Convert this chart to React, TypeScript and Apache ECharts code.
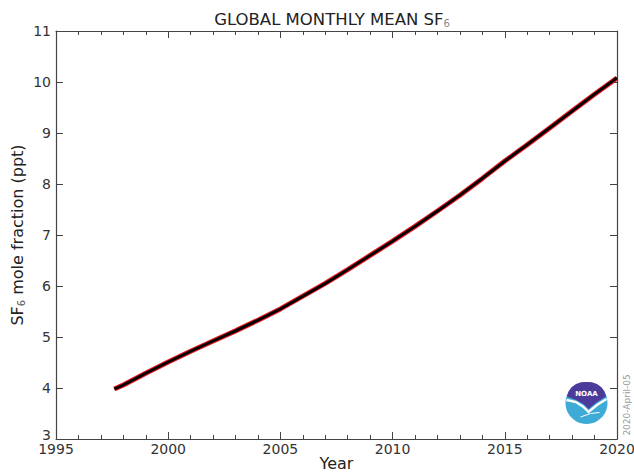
import React, { useEffect, useRef } from "react";
import * as echarts from "echarts";

const years = [1997.6, 1998, 1999, 2000, 2001, 2002, 2003, 2004, 2005, 2006, 2007, 2008, 2009, 2010, 2011, 2012, 2013, 2014, 2015, 2016, 2017, 2018, 2019, 2020];
const sf6 = [3.98, 4.06, 4.29, 4.51, 4.72, 4.92, 5.12, 5.33, 5.55, 5.8, 6.05, 6.32, 6.6, 6.88, 7.17, 7.47, 7.78, 8.11, 8.45, 8.77, 9.1, 9.43, 9.76, 10.08];
const xTicks = [1995, 2000, 2005, 2010, 2015, 2020];
const yTicks = [3, 4, 5, 6, 7, 8, 9, 10, 11];

const FONT = "DejaVu Sans";

export default function App() {
  const ref = useRef<HTMLDivElement>(null);
  useEffect(() => {
    if (!ref.current) return;
    const chart = echarts.init(ref.current, null, { renderer: "svg" });
    const data = years.map((y, i) => [y, sf6[i]]);
    const axisLine = { show: true, lineStyle: { color: "#444", width: 1.2 } };
    const baseX = {
      type: "value" as const,
      min: xTicks[0],
      max: xTicks[xTicks.length - 1],
      interval: 5,
      axisLine,
      splitLine: { show: false },
      axisTick: { show: true, inside: true, length: 7, lineStyle: { color: "#444" } },
      minorTick: { show: true, splitNumber: 5, length: 4, lineStyle: { color: "#444" } },
    };
    const baseY = {
      type: "value" as const,
      min: yTicks[0],
      max: yTicks[yTicks.length - 1],
      interval: 1,
      axisLine,
      splitLine: { show: false },
      axisTick: { show: true, inside: true, length: 7, lineStyle: { color: "#444" } },
    };
    chart.setOption({
      animation: false,
      backgroundColor: "#fff",
      textStyle: { fontFamily: FONT },
      title: {
        text: "GLOBAL MONTHLY MEAN SF{sub|6}",
        left: 327,
        textAlign: "center",
        top: 6,
        textStyle: {
          fontFamily: FONT,
          fontSize: 16.5,
          fontWeight: "normal",
          color: "#222",
          rich: {
            sub: { fontSize: 10, color: "#888", fontFamily: FONT, padding: [7, 0, 0, 0] },
          },
        },
      },
      grid: { left: 56, right: 17, top: 31, bottom: 33, containLabel: false, outerBoundsMode: "none" },
      xAxis: [
        {
          ...baseX,
          position: "bottom",
          name: "Year",
          nameLocation: "middle",
          nameGap: 16,
          nameMoveOverlap: false,
          nameTextStyle: { fontFamily: FONT, fontSize: 16, color: "#222", lineHeight: 17 },
          axisLabel: {
            show: true,
            fontFamily: FONT,
            fontSize: 14,
            color: "#333",
            margin: 3,
            formatter: (v: number) => String(v),
          },
        },
        { ...baseX, position: "top", axisLabel: { show: false } },
      ],
      yAxis: [
        {
          ...baseY,
          position: "left",
          name: "SF{sub|6} mole fraction (ppt)",
          nameLocation: "middle",
          nameGap: 30,
          nameMoveOverlap: false,
          nameRotate: 90,
          nameTextStyle: {
            fontFamily: FONT,
            fontSize: 16,
            color: "#222",
            rich: {
              sub: { fontSize: 10, color: "#555", fontFamily: FONT, padding: [7, 0, 0, 0] },
            },
          },
          axisLabel: {
            show: true,
            fontFamily: FONT,
            fontSize: 14,
            color: "#333",
            margin: 5,
            formatter: (v: number) => (v === yTicks[0] ? "{low|" + v + "}" : String(v)),
            rich: { low: { fontFamily: FONT, fontSize: 14, color: "#333", padding: [0, 0, 8, 0] } },
          },
        },
        { ...baseY, position: "right", axisLabel: { show: false } },
      ],
      series: [
        {
          type: "line",
          data,
          showSymbol: false,
          lineStyle: { color: "#e8141c", width: 5 },
          z: 2,
        },
        {
          type: "line",
          data,
          showSymbol: false,
          lineStyle: { color: "#000", width: 2.8 },
          z: 3,
        },
      ],
      graphic: [
        {
          type: "group",
          left: 564,
          top: 382,
          children: [
            { type: "circle", shape: { cx: 21, cy: 21, r: 21 }, style: { fill: "#3eaad6" } },
            {
              type: "polygon",
              shape: {
                points: [
                  [1.3, 14.5], [3, 9.5], [6, 5.2], [10.5, 2], [15.5, 0.3], [21, 0], [26.5, 0.3], [31.5, 2], [36, 5.2], [39, 9.5], [40.7, 14.5],
                  [31.5, 20], [23, 27], [18, 22], [10.5, 18],
                ],
              },
              style: { fill: "#4b3c9c" },
            },
            {
              type: "polyline",
              shape: { points: [[1, 18], [10.5, 20], [18, 25], [23, 30], [31.5, 23], [41, 17]] },
              style: { stroke: "#fff", lineWidth: 2.3, fill: "none" },
            },
            {
              type: "polyline",
              shape: { points: [[15, 35], [25, 31.5], [34, 30.5]] },
              style: { stroke: "#fff", lineWidth: 1, fill: "none" },
            },
            {
              type: "text",
              style: {
                x: 21,
                y: 11.5,
                text: "NOAA",
                fill: "#fff",
                fontSize: 7,
                fontWeight: "bold",
                fontFamily: FONT,
                align: "center",
                verticalAlign: "middle",
              },
            },
          ],
        },
        {
          type: "text",
          x: 627,
          y: 405,
          rotation: Math.PI / 2,
          style: {
            text: "2020-April-05",
            fill: "#999",
            fontSize: 9,
            fontFamily: FONT,
            align: "center",
            verticalAlign: "middle",
          },
        },
      ],
    });
    return () => chart.dispose();
  }, []);
  return <div ref={ref} style={{ position: "fixed", left: 0, top: 0, width: 634, height: 472 }} />;
}
